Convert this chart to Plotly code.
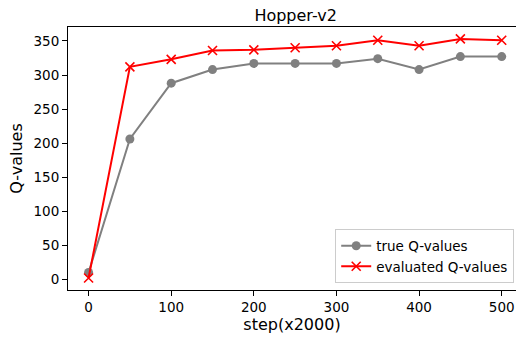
import plotly.graph_objects as go

steps = [0, 50, 100, 150, 200, 250, 300, 350, 400, 450, 500]
true_q = [10, 206, 288, 308, 317, 317, 317, 324, 308, 327, 327]
eval_q = [2, 312, 323, 336, 337, 340, 343, 351, 343, 353, 351]
x_ticks = [0, 100, 200, 300, 400, 500]
y_ticks = [0, 50, 100, 150, 200, 250, 300, 350]

FONT = "DejaVu Sans"

fig = go.Figure()
fig.add_trace(go.Scatter(
    x=steps, y=true_q, mode="lines+markers", name="true Q-values",
    line=dict(color="#808080", width=2),
    marker=dict(symbol="circle", size=9, color="#808080"),
))
fig.add_trace(go.Scatter(
    x=steps, y=eval_q, mode="lines+markers", name="evaluated Q-values",
    line=dict(color="#ff0000", width=2),
    marker=dict(symbol="x-thin", size=9, color="#ff0000",
                line=dict(color="#ff0000", width=1.6)),
))

fig.update_layout(
    width=516, height=337,
    margin=dict(l=68, r=0, t=27, b=47),
    paper_bgcolor="white", plot_bgcolor="white",
    font=dict(family=FONT, color="black", size=13.5),
    title=dict(text="Hopper-v2", x=0.573, xanchor="center", y=0.955, yanchor="middle",
               font=dict(size=16, family=FONT, color="black")),
    legend=dict(x=0.996, xanchor="right", y=0.025, yanchor="bottom",
                bgcolor="rgba(255,255,255,0.8)", bordercolor="#cccccc", borderwidth=1,
                font=dict(size=13.5, family=FONT), tracegroupgap=0),
    showlegend=True,
)
fig.update_xaxes(
    range=[-24.9, 517.3], tickvals=x_ticks, ticks="outside", ticklen=5, tickwidth=1,
    tickcolor="black", showline=True, linecolor="black", linewidth=1, mirror=True,
    showgrid=False, zeroline=False,
    title=dict(text="step(x2000)", font=dict(size=16, family=FONT), standoff=4),
)
fig.update_yaxes(
    range=[-15.7, 370.5], tickvals=y_ticks, ticks="outside", ticklen=5, tickwidth=1,
    tickcolor="black", showline=True, linecolor="black", linewidth=1, mirror=True,
    showgrid=False, zeroline=False,
    title=dict(text="Q-values", font=dict(size=16, family=FONT), standoff=6),
)

fig.write_html("out.html")
